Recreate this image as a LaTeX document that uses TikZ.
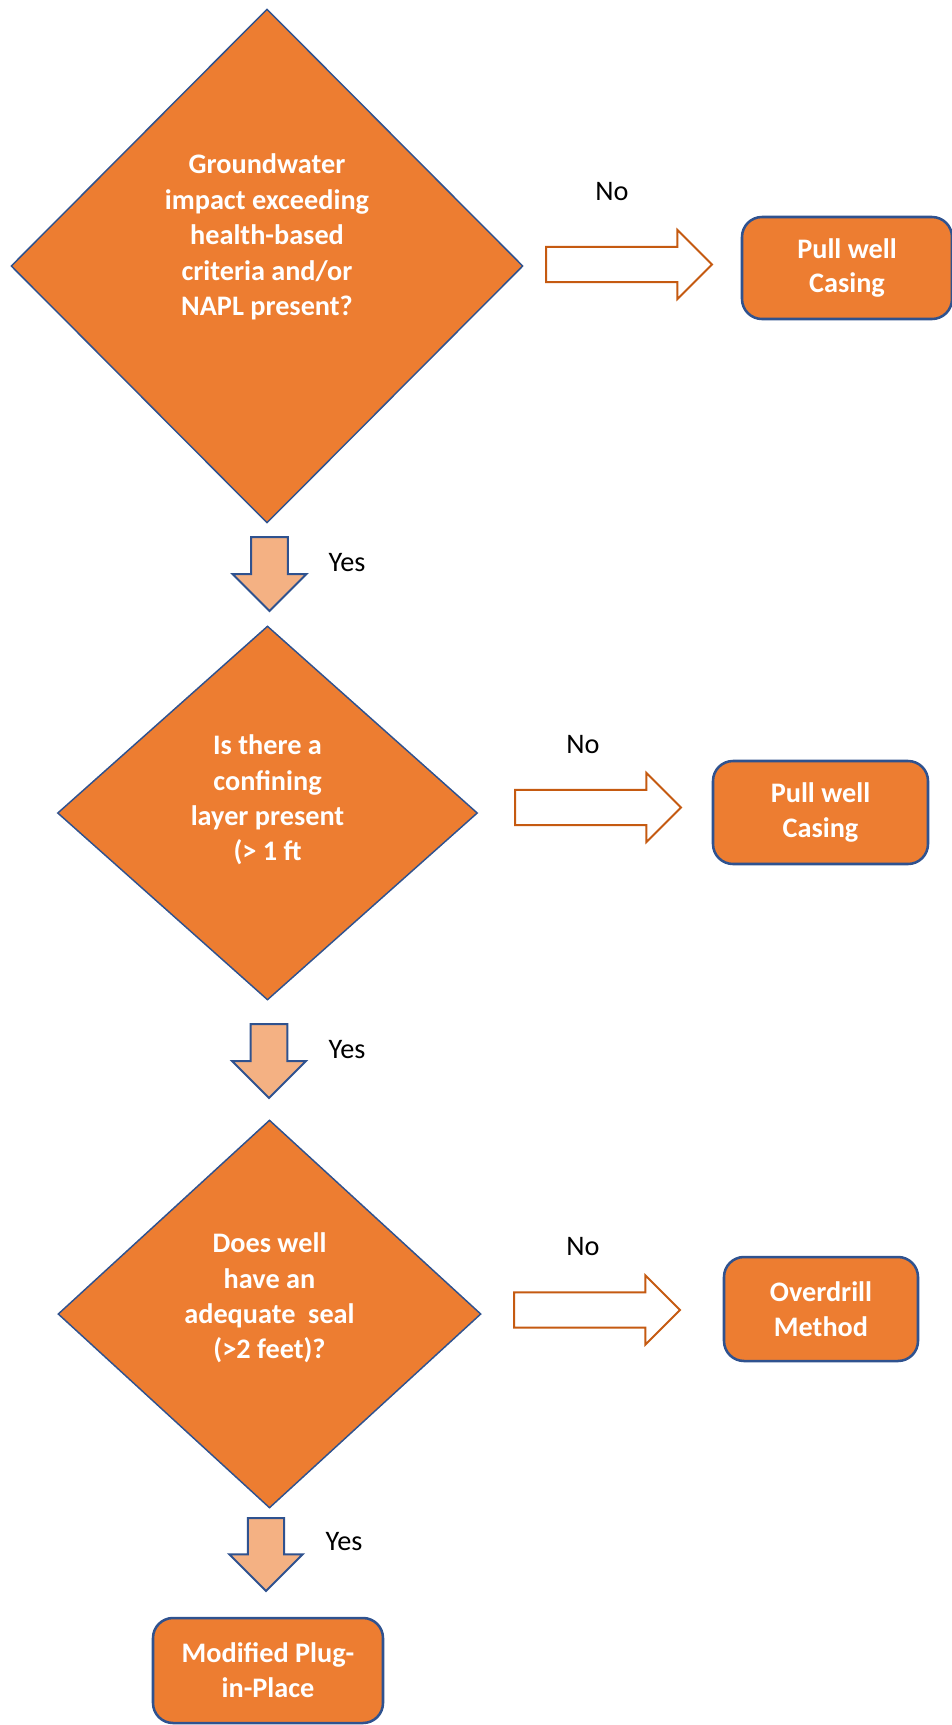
\documentclass[tikz,border=0pt]{standalone}
\usepackage{fontspec}
\setmainfont{Carlito}
\usetikzlibrary{shapes.geometric,shapes.arrows}
\definecolor{boxorange}{HTML}{ED7D31}
\definecolor{edgeblue}{HTML}{2F528F}
\definecolor{yesfill}{HTML}{F4B183}
\definecolor{noline}{HTML}{C55A11}

\begin{document}
\begin{tikzpicture}[x=0.75pt,y=-0.75pt,
	question/.style={diamond, draw=edgeblue, line width=1.1pt, fill=boxorange, inner sep=0pt},
	qtext/.style={text=white, align=center, font=\bfseries\fontsize{21.2}{26.6}\selectfont},
	outcome/.style={rectangle, rounded corners=15pt, draw=edgeblue, line width=1.9pt, fill=boxorange, inner sep=0pt, text=white, align=center, font=\bfseries\fontsize{21.2}{26.2}\selectfont},
	noarrow/.style={single arrow, draw=noline, line width=1.5pt, fill=white, inner xsep=0pt, inner ysep=12.4pt, minimum height=124.5pt, single arrow head extend=12.75pt, anchor=tail},
	yesarrow/.style={single arrow, draw=edgeblue, line width=1.5pt, fill=yesfill, inner xsep=0pt, inner ysep=13.1pt, rotate=-90, minimum height=55.5pt, single arrow head extend=13.9pt, anchor=tail},
	answer/.style={font=\fontsize{21.2}{26.2}\selectfont}]
			%%%%% START %%%%%
			\useasboundingbox (0, 0) rectangle (951, 1725);
			
			% first question
			\node[question, minimum width=384pt, minimum height=385.5pt] (q1) at (267, 266) {};
			\node[qtext] (q1text) at (267, 237) {Groundwater\\impact exceeding\\health-based\\criteria and/or\\NAPL present?};
			\node[noarrow] (no1) at (545, 264.5) {};
			\node[answer] (no1label) at (612, 192) {No};
			\node[outcome, minimum width=157.5pt, minimum height=76.5pt] (pull1) at (847, 268) {Pull well\\Casing};
			\node[yesarrow] (yes1) at (269.5, 536) {};
			\node[answer] (yes1label) at (347, 563) {Yes};
			
			% second question
			\node[question, minimum width=315pt, minimum height=280.5pt] (q2) at (267.5, 813) {};
			\node[qtext] (q2text) at (267.5, 800) {Is there a\\confining\\layer present\\(> 1 ft};
			\node[noarrow] (no2) at (514, 807.5) {};
			\node[answer] (no2label) at (583, 745) {No};
			\node[outcome, minimum width=161.25pt, minimum height=77.25pt] (pull2) at (820.5, 812.5) {Pull well\\Casing};
			\node[yesarrow] (yes2) at (269, 1023) {};
			\node[answer] (yes2label) at (347, 1050) {Yes};
			
			% third question
			\node[question, minimum width=317.25pt, minimum height=291pt] (q3) at (269.5, 1314) {};
			\node[qtext] (q3text) at (269.5, 1298) {Does well\\have an\\adequate\ \ seal\\(>2 feet)?};
			\node[noarrow] (no3) at (513, 1310) {};
			\node[answer] (no3label) at (583, 1247) {No};
			\node[outcome, minimum width=145.5pt, minimum height=78pt] (overdrill) at (821, 1309) {Overdrill\\Method};
			\node[yesarrow, minimum height=54.75pt, inner ysep=12.8pt] (yes3) at (266, 1517) {};
			\node[answer] (yes3label) at (344, 1542) {Yes};
			
			% end
			\node[outcome, minimum width=172.5pt, minimum height=78.75pt] (plug) at (268, 1670.5) {Modified Plug-\\in-Place};
			%%%%% END %%%%%
		\end{tikzpicture}
\end{document}
